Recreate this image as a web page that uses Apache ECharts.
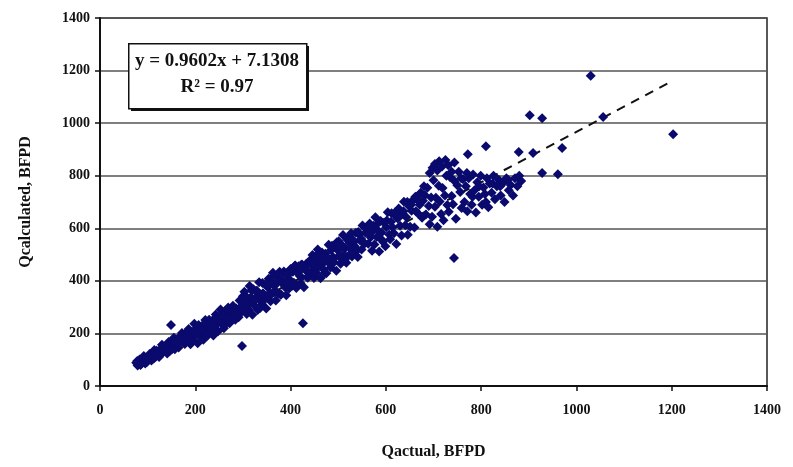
<!DOCTYPE html>
<html>
<head>
<meta charset="utf-8">
<script src="https://cdn.jsdelivr.net/npm/echarts@6/dist/echarts.min.js"></script>
<style>
  html, body { margin: 0; padding: 0; background: #fff; }
  #chart { width: 793px; height: 467px; }
</style>
</head>
<body>
<div id="chart"></div>
<script>
// Qactual vs Qcalculated, BFPD
const bandLow = [
  [76,88],[79,78],[83,101],[85,80],[89,96],[92,114],[95,86],[97,106],[101,101],[104,122],
  [108,97],[111,123],[114,137],[117,111],[121,125],[124,110],[127,141],[130,157],[134,130],[137,144],
  [141,124],[144,167],[148,159],[151,140],[155,184],[158,155],[162,178],[165,146],[169,177],[172,202],
  [176,166],[179,197],
  [78,95],[81,87],[87,85],[94,108],[99,92],[106,116],[113,105],[119,134],[126,118],[132,128],
  [139,155],[146,132],[153,170],[157,140],[163,158],[167,185],[174,190],[178,160]
];
const bandMid = [
  [181,204],[183,173],[186,217],[188,189],[190,159],[193,205],[195,174],[198,237],[200,193],[202,209],
  [205,163],[207,232],[209,206],[212,186],[214,228],[217,176],[219,218],[221,251],[224,202],[226,192],
  [229,252],[231,222],[233,209],[236,249],[238,192],[241,249],[243,272],[245,234],[248,208],[250,263],
  [253,291],[255,239],[257,258],[260,220],[262,284],[265,239],[267,275],[269,299],[272,239],[274,276],
  [277,271],[279,305],[281,275],[284,252],[286,295],[289,281],[291,262],[293,325],[296,280],[298,306],
  [184,190],[192,185],[197,210],[204,198],[211,220],[218,200],[225,230],[232,238],[239,222],[246,255],
  [252,248],[258,270],[264,262],[270,285],[276,258],[282,290],[288,268],[294,295]
];
const bandDense = [
  [300,341],[302,296],[303,359],[306,317],[308,274],[309,337],[311,292],[314,380],[316,317],[317,338],
  [320,271],[322,368],[325,333],[326,302],[328,362],[331,289],[333,349],[334,395],[337,325],[340,311],
  [341,392],[343,349],[346,330],[348,386],[349,295],[352,376],[354,408],[357,355],[358,322],[361,392],
  [363,431],[365,356],[366,380],[369,325],[371,415],[374,352],[375,401],[377,435],[380,348],[382,400],
  [384,387],[386,436],[389,375],[391,345],[392,428],[395,407],[397,371],[400,445],[402,398],[405,435],
  [407,393],[410,458],[412,373],[414,434],[417,456],[419,419],[421,391],[424,462],[426,452],[428,376],
  [431,441],[433,465],[435,415],[437,470],[439,431],
  [304,325],[312,288],[318,364],[324,322],[330,361],[336,297],[342,353],[350,386],[356,342],[362,416],
  [368,362],[373,397],[379,347],[385,426],[390,394],[396,424],[403,381],[409,457],[416,432],[423,413],
  [430,451],[436,412]
];
const bandUpper = [
  [441,478],[443,433],[446,498],[448,455],[449,411],[452,476],[454,431],[457,519],[459,456],[461,478],
  [463,410],[466,508],[468,472],[470,442],[473,503],[475,429],[477,489],[480,537],[482,466],[484,451],
  [487,534],[489,491],[491,471],[494,528],[496,438],[498,518],[501,551],[503,497],[505,465],[508,535],
  [510,574],[512,499],[515,525],[517,469],[520,560],[522,496],[524,546],[527,581],[529,493],[532,546],
  [534,533],[537,583],[539,521],[541,491],[544,576],[546,554],[549,519],[551,611],[554,546],[557,583],
  [444,461],[451,423],[456,498],[462,456],[467,494],[472,429],[478,485],[485,517],[490,472],[497,547],
  [502,492],[507,527],[513,477],[519,556],[525,525],[531,555],[536,510],[542,586],[548,560],[555,541],
  [561,596],[563,541],[566,618],[568,566],[571,515],[573,591],[576,538],[578,642],[581,567],[583,593],
  [586,512],[589,628],[591,584],[594,549],[596,621],[599,532],[601,604],[604,661],[607,576],[609,558],
  [612,657],[614,604],[617,581],[620,648],[622,540],[625,637],[627,675],[630,610],[633,573],[635,655],
  [638,701],[641,612],[643,642],[646,575],[649,684],[651,606],[654,667],[657,708],[660,603],[663,665],
  [666,720],[668,655],[671,690],[673,735],[676,640],[678,705],[680,760],
  [565,580],[574,610],[584,620],[592,555],[602,630],[611,625],[619,660],[628,650],[637,665],[645,700],
  [653,690],[662,720],[670,700]
];
const bandHigh = [
  [682,726],[684,652],[687,754],[690,685],[692,615],[695,717],[697,644],[700,783],[703,682],[705,716],
  [708,606],[711,762],[713,702],[716,654],[719,753],[721,631],[724,725],[727,800],[729,689],[732,663],
  [735,794],[738,723],[741,691],[744,780],[747,636],[750,764],[753,815],[756,738],[759,677],[762,787],
  [692,810],[698,830],[703,845],[708,820],[712,855],[718,835],[725,860],[731,840],[738,815],[744,850],
  [765,700],[768,760],[771,665],[774,790],[777,730],[780,690],[783,805],[786,745],[789,660],[792,775],
  [795,720],[799,800],[802,690],[805,755],[808,730],[812,790],[815,680],[818,770],[822,735],[826,800],
  [829,710],[833,760],[837,785],[841,725],[845,770],[849,700],[853,790],[858,745],[862,765],[867,725],
  [871,790],[876,760],[880,800],[884,780],
  [758,790],[770,810],[782,720],[796,760],[810,700],[824,770],[840,760],[856,785]
];
const outliers = [
  [149,232],[298,152],[426,239],[422,460],[743,487],[772,882],[810,912],[879,890],[909,886],
  [928,810],[961,806],[970,905],[902,1030],[928,1019],[1056,1023],[1030,1180],[1203,958]
];
// trendline end points
const trendX = [76, 1203];
const trendY = [80, 1162];
const eqText = 'y = 0.9602x + 7.1308';
const r2Text = 'R² = 0.97';
const axisTicks = [0, 200, 400, 600, 800, 1000, 1200, 1400];

const points = [].concat(bandLow, bandMid, bandDense, bandUpper, bandHigh, outliers);
const font = 'Liberation Serif';
const labelStyle = { fontFamily: font, fontWeight: 'bold', fontSize: 14, color: '#111', formatter: v => String(v) };

const chart = echarts.init(document.getElementById('chart'));
chart.setOption({
  backgroundColor: '#fff',
  animation: false,
  grid: {
    left: 100, top: 18, right: 26, bottom: 81,
    show: true, borderColor: '#222', borderWidth: 1.5
  },
  xAxis: {
    type: 'value', min: axisTicks[0], max: axisTicks[axisTicks.length - 1], interval: 200,
    name: 'Qactual, BFPD', nameLocation: 'middle', nameGap: 58,
    nameTextStyle: { fontFamily: font, fontWeight: 'bold', fontSize: 16, color: '#111' },
    axisLine: { lineStyle: { color: '#111', width: 2 } },
    axisTick: { show: true, length: 5, lineStyle: { color: '#111', width: 1.5 } },
    axisLabel: Object.assign({ margin: 17 }, labelStyle),
    splitLine: { show: false }
  },
  yAxis: {
    type: 'value', min: axisTicks[0], max: axisTicks[axisTicks.length - 1], interval: 200,
    name: 'Qcalculated, BFPD', nameLocation: 'middle', nameGap: 66,
    nameTextStyle: { fontFamily: font, fontWeight: 'bold', fontSize: 16, color: '#111' },
    axisLine: { lineStyle: { color: '#111', width: 2 } },
    axisTick: { show: true, length: 5, lineStyle: { color: '#111', width: 1.5 } },
    axisLabel: Object.assign({ margin: 10 }, labelStyle),
    splitLine: { show: true, lineStyle: { color: '#555', width: 1.5 } }
  },
  series: [
    {
      type: 'line',
      data: trendX.map((x, i) => [x, trendY[i]]),
      symbol: 'none',
      z: 1,
      lineStyle: { color: '#111', width: 2, type: [9, 7] }
    },
    {
      type: 'scatter',
      data: points,
      symbol: 'diamond',
      symbolSize: 10,
      z: 2,
      itemStyle: { color: '#0a0a6e', opacity: 1 }
    }
  ],
  graphic: [
    {
      type: 'rect', left: 131, top: 46, z: 10,
      shape: { width: 178, height: 65 },
      style: { fill: '#111' }
    },
    {
      type: 'rect', left: 128, top: 43, z: 11,
      shape: { width: 178, height: 65 },
      style: { fill: '#fff', stroke: '#111', lineWidth: 1.5 }
    },
    {
      type: 'text', z: 12,
      style: {
        x: 217, y: 61, text: eqText, align: 'center', verticalAlign: 'middle',
        font: 'bold 19px "Liberation Serif"', fill: '#111'
      }
    },
    {
      type: 'text', z: 12,
      style: {
        x: 217, y: 87, text: r2Text, align: 'center', verticalAlign: 'middle',
        font: 'bold 19px "Liberation Serif"', fill: '#111'
      }
    }
  ]
});
</script>
</body>
</html>
